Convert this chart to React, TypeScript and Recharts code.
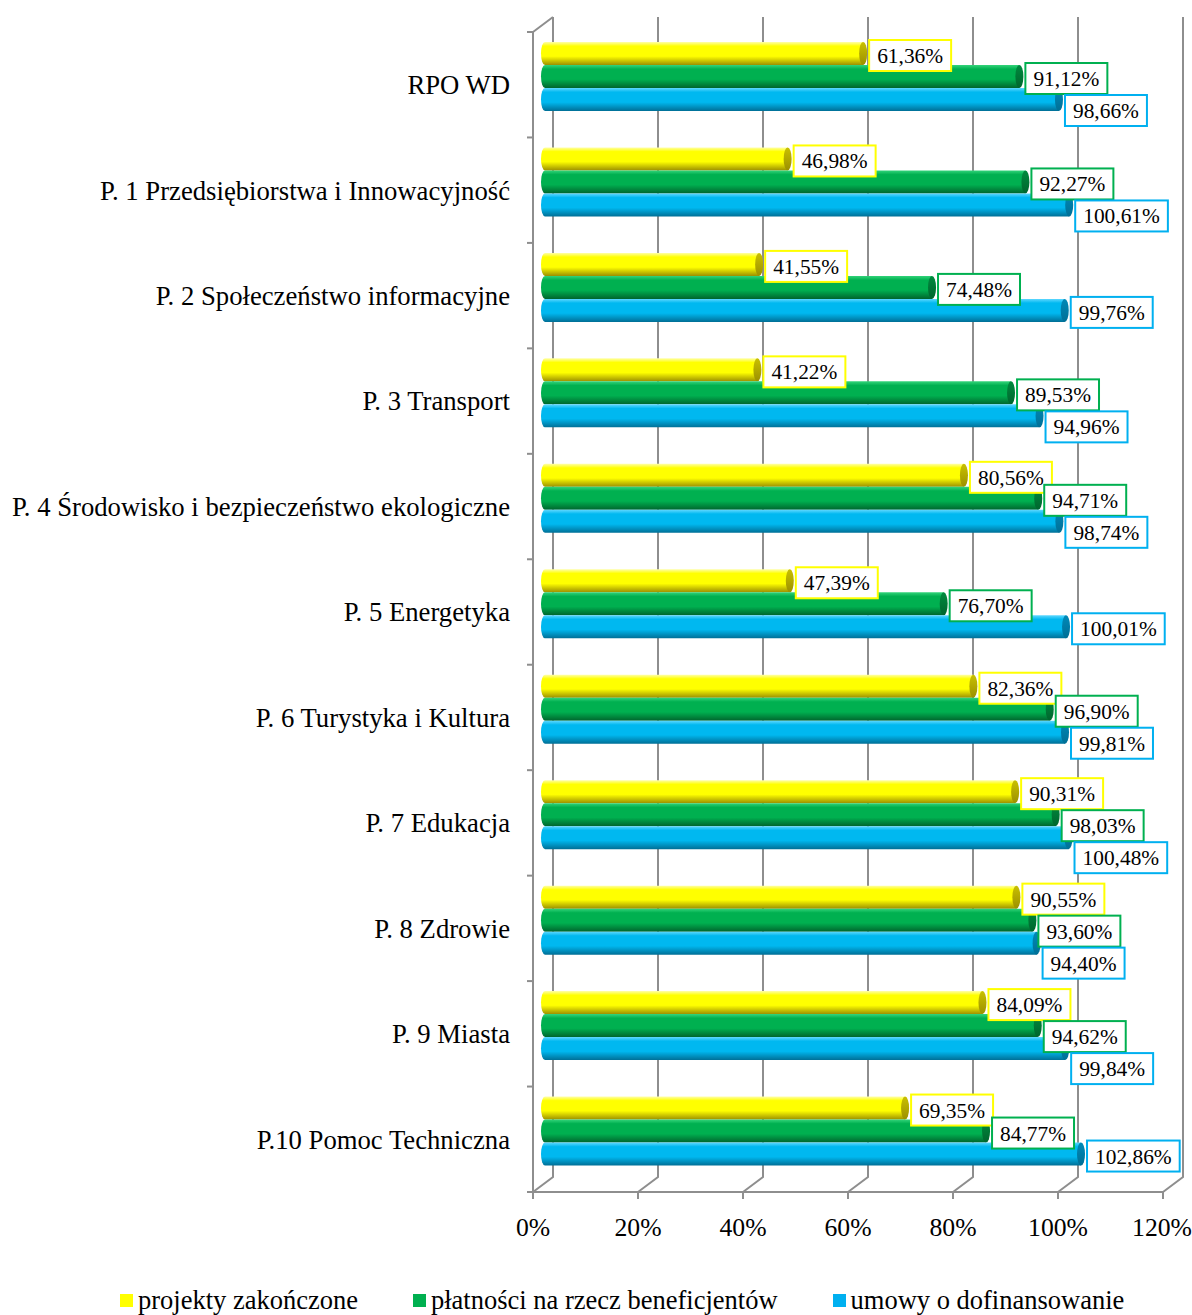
import React from "react";
import {
  BarChart,
  Bar,
  XAxis,
  YAxis,
  CartesianGrid,
  Legend,
  LabelList,
} from "recharts";

// ─── Data ──────────────────────────────────────────────────────────────────
const categories = [
  "RPO WD",
  "P. 1 Przedsiębiorstwa i Innowacyjność",
  "P. 2 Społeczeństwo informacyjne",
  "P. 3 Transport",
  "P. 4 Środowisko i bezpieczeństwo ekologiczne",
  "P. 5 Energetyka",
  "P. 6 Turystyka i Kultura",
  "P. 7 Edukacja",
  "P. 8 Zdrowie",
  "P. 9 Miasta",
  "P.10 Pomoc Techniczna",
];
const projektyZakonczone = [61.36, 46.98, 41.55, 41.22, 80.56, 47.39, 82.36, 90.31, 90.55, 84.09, 69.35];
const platnosci = [91.12, 92.27, 74.48, 89.53, 94.71, 76.7, 96.9, 98.03, 93.6, 94.62, 84.77];
const umowy = [98.66, 100.61, 99.76, 94.96, 98.74, 100.01, 99.81, 100.48, 94.4, 99.84, 102.86];
const xTicks = [0, 20, 40, 60, 80, 100, 120];

const SERIES = [
  { key: "zak", name: "projekty zakończone", values: projektyZakonczone, base: "#FFFF00", light: "#ffffa8", dark: "#9c9000", cap: "#c9c000", border: "#FFFF00" },
  { key: "plat", name: "płatności na rzecz beneficjentów", values: platnosci, base: "#00B050", light: "#33d47a", dark: "#00652d", cap: "#008a3e", border: "#00B050" },
  { key: "umowy", name: "umowy o dofinansowanie", values: umowy, base: "#00B8F0", light: "#5fd8ff", dark: "#006f96", cap: "#0089b8", border: "#00B0F0" },
];

const data = categories.map((name, i) => ({
  name,
  zak: projektyZakonczone[i],
  plat: platnosci[i],
  umowy: umowy[i],
}));

// ─── Layout ────────────────────────────────────────────────────────────────
const W = 1192;
const H = 1315;
const PLOT_LEFT = 533;
const PLOT_TOP = 32;
const PLOT_BOTTOM = 1192;
const BAND = (PLOT_BOTTOM - PLOT_TOP) / categories.length;
const DEPTH_X = 20;
const DEPTH_Y = 15;
const BAR_DX = 8;
const BAR_DY = -8;
const BAR = 23;
const FONT = '"Liberation Serif", "Times New Roman", serif';
const GRID = "#8e8e8e";
const LABEL_FS = 21.4;

const fmt = (v: number) => v.toFixed(2).replace(".", ",") + "%";

// rough Times metrics for the value boxes
function textWidth(t: string, fs: number) {
  let em = 0;
  for (const c of t) em += c === "," ? 0.25 : c === "%" ? 0.833 : 0.5;
  return em * fs;
}

// ─── Cylinder bar ──────────────────────────────────────────────────────────
function makeCylinder(si: number) {
  return (props: any) => {
    const { x, y, width, height } = props;
    if (width == null || width <= 0) return <g />;
    const s = SERIES[si];
    const bx = x + BAR_DX;
    const by = y + BAR_DY;
    const rx = 4;
    const ry = height / 2;
    return (
      <g>
        <path
          d={`M${bx + rx},${by} L${bx + width},${by} L${bx + width},${by + height} L${bx + rx},${by + height} A${rx},${ry} 0 0 1 ${bx + rx},${by} Z`}
          fill={`url(#cyl-${s.key})`}
        />
        <ellipse cx={bx + width} cy={by + ry} rx={rx} ry={ry} fill={`url(#cap-${s.key})`} />
      </g>
    );
  };
}

// ─── Data labels with simple overlap push ──────────────────────────────────
function boxesForRow(i: number, ppu: number, x0: number, groupTop: number) {
  const boxes: { left: number; top: number; w: number; h: number; text: string }[] = [];
  SERIES.forEach((s, si) => {
    const v = s.values[i];
    const text = fmt(v);
    const w = textWidth(text, LABEL_FS) + 16;
    const h = 31;
    const left = x0 + BAR_DX + v * ppu + 6;
    const center = groupTop + si * BAR + BAR / 2 + BAR_DY + 2;
    let top = center - h / 2;
    for (const b of boxes) {
      const overlapW = Math.min(left + w, b.left + b.w) - Math.max(left, b.left);
      if (overlapW > 10 && top < b.top + b.h + 1) top = b.top + b.h + 1;
    }
    boxes.push({ left, top, w, h, text });
  });
  return boxes;
}

function makeLabel(si: number) {
  return (props: any) => {
    const { x, y, width, value, index } = props;
    if (!value) return null;
    const ppu = width / value;
    const groupTop = y - si * BAR;
    const b = boxesForRow(index, ppu, x, groupTop)[si];
    return (
      <g>
        <rect x={b.left} y={b.top} width={b.w} height={b.h} fill="#fff" stroke={SERIES[si].border} strokeWidth={2} />
        <text
          x={b.left + b.w / 2}
          y={b.top + b.h / 2}
          dy="0.35em"
          textAnchor="middle"
          fontSize={LABEL_FS}
          fontFamily={FONT}
          fill="#000"
        >
          {b.text}
        </text>
      </g>
    );
  };
}

// ─── Axis pieces ───────────────────────────────────────────────────────────
function GridLine(props: any) {
  const { x1, y1, y2 } = props;
  const x = x1;
  let d = `M${x + DEPTH_X},${y1 - DEPTH_Y} L${x + DEPTH_X},${y2 - DEPTH_Y} L${x},${y2}`;
  if (Math.abs(x - PLOT_LEFT) < 1) d += ` M${x},${y1} L${x + DEPTH_X},${y1 - DEPTH_Y}`;
  return <path d={d} fill="none" stroke={GRID} strokeWidth={2} />;
}

function CategoryTick(props: any) {
  const { x, y, payload, index } = props;
  const axisX = x + 17 + 6;
  const last = index === categories.length - 1;
  return (
    <g>
      <line x1={axisX - 6} x2={axisX} y1={y - BAND / 2} y2={y - BAND / 2} stroke={GRID} strokeWidth={2} />
      {last && <line x1={axisX - 6} x2={axisX} y1={y + BAND / 2} y2={y + BAND / 2} stroke={GRID} strokeWidth={2} />}
      <text x={x} y={y} dy="0.35em" textAnchor="end" fontSize={26.7} fontFamily={FONT} fill="#000">
        {payload.value}
      </text>
    </g>
  );
}

function LegendContent() {
  return (
    <div style={{ display: "flex", alignItems: "center", height: 30, fontFamily: FONT, fontSize: 26.5, color: "#000", whiteSpace: "nowrap" }}>
      {SERIES.map((s, i) => (
        <div key={s.key} style={{ display: "flex", alignItems: "center", marginLeft: i === 0 ? 0 : 55 }}>
          <span style={{ display: "inline-block", width: 13, height: 13, background: s.border, marginRight: 5 }} />
          <span>{s.name}</span>
        </div>
      ))}
    </div>
  );
}

export default function App() {
  return (
    <div style={{ width: W, height: H, background: "#fff" }}>
      <style>{"body{margin:0;background:#fff}"}</style>
      <BarChart
        width={W}
        height={H}
        data={data}
        layout="vertical"
        margin={{ top: PLOT_TOP, right: W - 1163, bottom: 0, left: 0 }}
        barSize={BAR}
        barGap={0}
      >
        <defs>
          {SERIES.map((s) => (
            <React.Fragment key={s.key}>
              <linearGradient id={`cyl-${s.key}`} x1="0" y1="0" x2="0" y2="1">
                <stop offset="0%" stopColor={s.light} />
                <stop offset="18%" stopColor={s.base} />
                <stop offset="62%" stopColor={s.base} />
                <stop offset="100%" stopColor={s.dark} />
              </linearGradient>
              <linearGradient id={`cap-${s.key}`} x1="0" y1="0" x2="0" y2="1">
                <stop offset="0%" stopColor={s.cap} />
                <stop offset="100%" stopColor={s.dark} />
              </linearGradient>
            </React.Fragment>
          ))}
        </defs>
        <CartesianGrid horizontal={false} vertical={(p: any) => <GridLine key={p.key} {...p} />} />
        <XAxis
          type="number"
          domain={[0, 120]}
          ticks={xTicks}
          tickFormatter={(v) => `${v}%`}
          height={93}
          tickSize={7}
          tickMargin={19}
          axisLine={{ stroke: GRID, strokeWidth: 2 }}
          tickLine={{ stroke: GRID, strokeWidth: 2 }}
          tick={{ fontSize: 25.7, fontFamily: FONT, fill: "#000" }}
        />
        <YAxis
          type="category"
          dataKey="name"
          width={PLOT_LEFT}
          tickSize={6}
          tickMargin={17}
          tickLine={false}
          axisLine={{ stroke: GRID, strokeWidth: 2 }}
          tick={<CategoryTick />}
          interval={0}
        />
        <Legend
          verticalAlign="bottom"
          align="left"
          content={() => <LegendContent />}
          wrapperStyle={{ left: 120, bottom: 0, width: "auto" }}
        />
        {SERIES.map((s, si) => (
          <Bar key={s.key} dataKey={s.key} name={s.name} fill={s.base} shape={makeCylinder(si)} isAnimationActive={false}>
            <LabelList dataKey={s.key} content={makeLabel(si)} />
          </Bar>
        ))}
      </BarChart>
    </div>
  );
}
